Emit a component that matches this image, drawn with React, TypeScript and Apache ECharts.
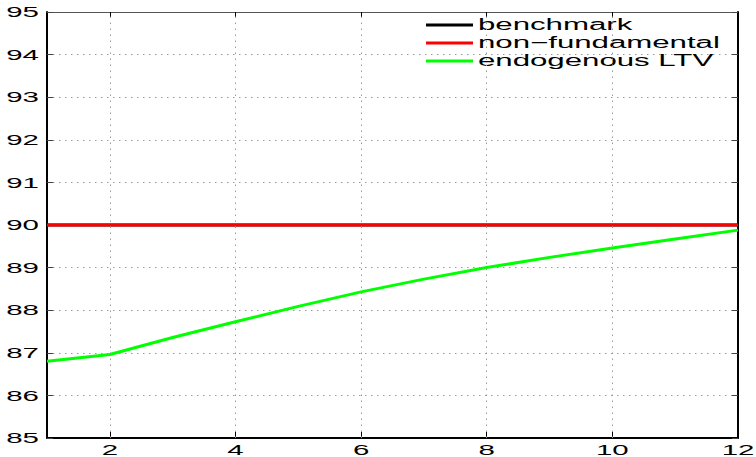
import React, { useEffect, useRef } from "react";
import * as echarts from "echarts";

const periods = [1, 2, 3, 4, 5, 6, 7, 8, 9, 10, 11, 12];
const benchmark = [90, 90, 90, 90, 90, 90, 90, 90, 90, 90, 90, 90];
const nonFundamental = [90, 90, 90, 90, 90, 90, 90, 90, 90, 90, 90, 90];
const endogenousLTV = [86.8, 86.96, 87.36, 87.73, 88.09, 88.43, 88.73, 89.0, 89.24, 89.46, 89.67, 89.88];
const xTicks = [2, 4, 6, 8, 10, 12];
const yTicks = [85, 86, 87, 88, 89, 90, 91, 92, 93, 94, 95];
const seriesNames = ["benchmark", "non\u2212fundamental", "endogenous LTV"];
const seriesColors = ["#000000", "#ff0000", "#00ff00"];

const FONT = "'Liberation Sans', Arial, Helvetica, sans-serif";
const SX = 1.9;

export default function App() {
  const ref = useRef<HTMLDivElement>(null);
  useEffect(() => {
    if (!ref.current) return;
    const chart = echarts.init(ref.current, undefined, { renderer: "svg" });
    const toPairs = (arr: number[]) => periods.map((p, i) => [p, arr[i]]);
    const dotted = { color: "#9a9a9a", width: 1, type: [1.5, 4.5] as any };
    chart.setOption({
      animation: false,
      backgroundColor: "#ffffff",
      grid: { left: 47, right: 18, top: 12, bottom: 19, containLabel: false },
      xAxis: [
        {
          type: "value",
          min: 1,
          max: 12,
          position: "bottom",
          axisLine: { lineStyle: { color: "#000", width: 2 } },
          axisTick: { inside: true, length: 6, customValues: xTicks, lineStyle: { color: "#000", width: 1 } },
          axisLabel: { show: false },
          splitLine: { show: false },
        },
        {
          type: "value",
          min: 1,
          max: 12,
          position: "top",
          axisLine: { lineStyle: { color: "#555", width: 1 } },
          axisTick: { inside: true, length: 6, customValues: xTicks, lineStyle: { color: "#000", width: 1 } },
          axisLabel: { show: false },
          splitLine: { show: false },
        },
      ],
      yAxis: [
        {
          type: "value",
          min: 85,
          max: 95,
          interval: 1,
          position: "left",
          axisLine: { show: true, lineStyle: { color: "#000", width: 2 } },
          axisTick: { inside: true, length: 6, lineStyle: { color: "#444", width: 1 } },
          axisLabel: { show: false },
          splitLine: { show: true, lineStyle: dotted },
        },
        {
          type: "value",
          min: 85,
          max: 95,
          interval: 1,
          position: "right",
          axisLine: { show: true, lineStyle: { color: "#000", width: 2 } },
          axisTick: { inside: true, length: 6, lineStyle: { color: "#444", width: 1 } },
          axisLabel: { show: false },
          splitLine: { show: false },
        },
      ],
      series: [
        {
          name: seriesNames[0],
          type: "line",
          data: toPairs(benchmark),
          showSymbol: false,
          lineStyle: { color: seriesColors[0], width: 3 },
          z: 2,
          markLine: {
            silent: true,
            symbol: ["none", "none"],
            label: { show: false },
            lineStyle: dotted,
            data: xTicks.slice(0, -1).map((v) => ({ xAxis: v })),
          },
        },
        {
          name: seriesNames[1],
          type: "line",
          data: toPairs(nonFundamental),
          showSymbol: false,
          lineStyle: { color: seriesColors[1], width: 3 },
          z: 3,
        },
        {
          name: seriesNames[2],
          type: "line",
          data: toPairs(endogenousLTV),
          showSymbol: false,
          lineStyle: { color: seriesColors[2], width: 3 },
          z: 4,
        },
      ],
    });

    const graphics: any[] = [];
    xTicks.forEach((v) => {
      const [px, py] = chart.convertToPixel({ xAxisIndex: 0, yAxisIndex: 0 }, [v, 85]) as number[];
      graphics.push({
        type: "text",
        x: px,
        y: py + 11.5,
        scaleX: SX,
        style: {
          text: String(v),
          x: 0,
          y: 0,
          textAlign: "center",
          textVerticalAlign: "middle",
          fontFamily: FONT,
          fontSize: 15.5,
          lineHeight: 12,
          fill: "#000",
        },
      });
    });
    yTicks.forEach((v) => {
      const [px, py] = chart.convertToPixel({ xAxisIndex: 0, yAxisIndex: 0 }, [1, v]) as number[];
      graphics.push({
        type: "text",
        x: px - 8,
        y: py,
        scaleX: SX,
        style: {
          text: String(v),
          x: 0,
          y: 0,
          textAlign: "right",
          textVerticalAlign: "middle",
          fontFamily: FONT,
          fontSize: 15.5,
          lineHeight: 14,
          fill: "#000",
        },
      });
    });
    seriesNames.forEach((name, i) => {
      const y = 25 + i * 18;
      graphics.push({
        type: "line",
        shape: { x1: 426, y1: y, x2: 473, y2: y },
        style: { stroke: seriesColors[i], lineWidth: 3 },
      });
      graphics.push({
        type: "text",
        x: 478,
        y: y,
        scaleX: 1.95,
        style: {
          text: name,
          x: 0,
          y: 0,
          textAlign: "left",
          textVerticalAlign: "middle",
          fontFamily: FONT,
          fontSize: 16,
          fill: "#000",
        },
      });
    });
    chart.setOption({ graphic: graphics });

    return () => chart.dispose();
  }, []);
  return <div ref={ref} style={{ width: 756, height: 457, position: "absolute", left: 0, top: 0 }} />;
}
